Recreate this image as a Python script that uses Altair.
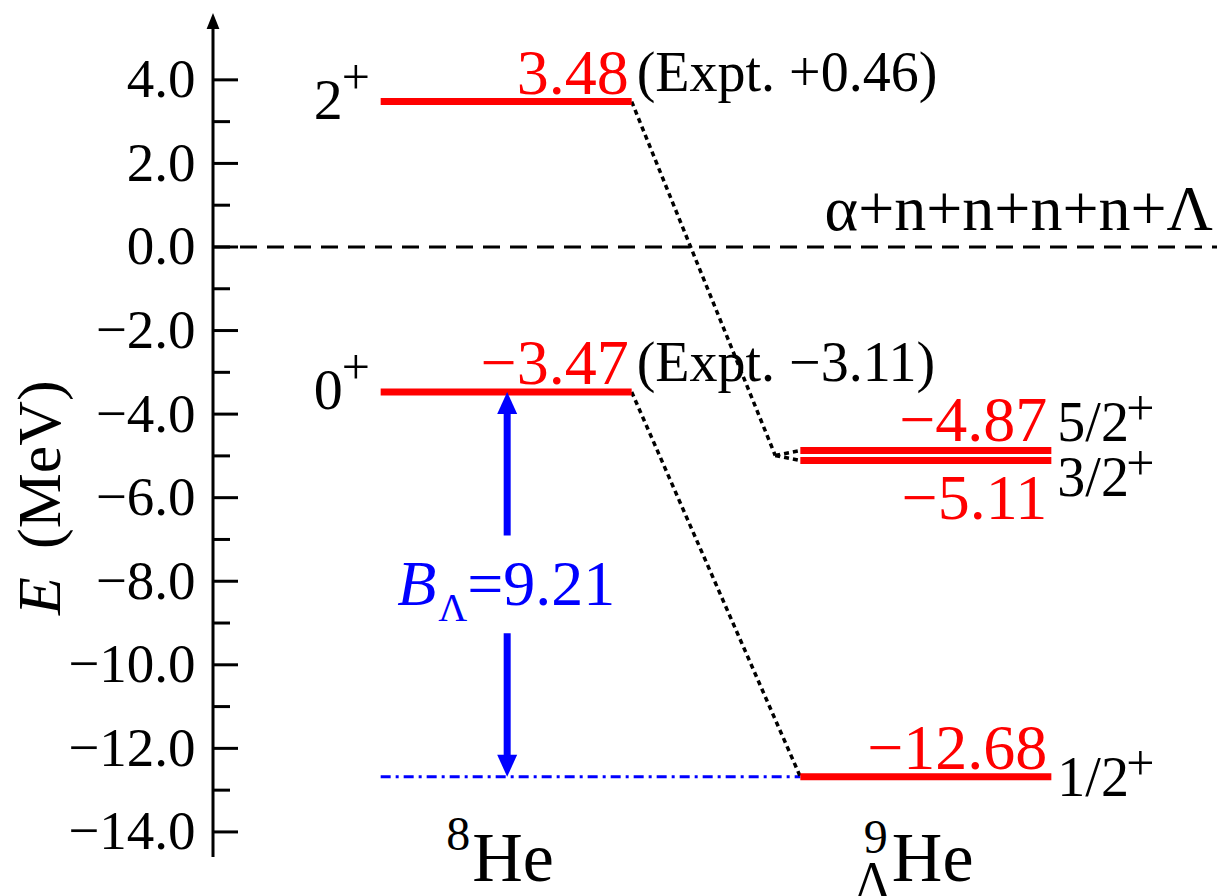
import altair as alt
import pandas as pd

# ---- level energies (MeV) ----
core_spin = ["2", "0"]
core_energy = [3.48, -3.47]
core_expt = ["+0.46", "\u22123.11"]

hyp_spin = ["5/2", "3/2", "1/2"]
hyp_energy = [-4.87, -5.11, -12.68]

threshold_energy = [0.0]
threshold_text = ["\u03b1+n+n+n+n+\u039b"]

nucleus_mass = ["8", "9"]
nucleus_symbol = ["He", "He"]

major_ticks = [-14, -12, -10, -8, -6, -4, -2, 0, 2, 4]
minor_ticks = [-13, -11, -9, -7, -5, -3, -1, 1, 3]

# ---- layout ----
W, H = 1004, 844
Y_DOM = [-14.6, 5.6]
X_DOM = [0, 10]
PX = H / (Y_DOM[1] - Y_DOM[0])  # pixels per MeV
CORE_X0, HYP_X0, LEVEL_LEN = 1.67, 5.85, 2.5
ARROW_X = 2.93
FORK_X = 5.60
FONT = "Liberation Serif"
RED, BLUE, BLACK = "#ff0000", "#0000ff", "#000000"
SUP = 50  # font size of the parity superscripts

hyp_value_dy = [-9, 59, -8]
hyp_spin_dy = [-9, 36, 19]

Y_AXIS = alt.Axis(
    values=major_ticks, format=".1f", domain=False, ticks=False, tickSize=0,
    grid=False, labelFont=FONT, labelFontSize=55, labelColor=BLACK,
    labelPadding=18, title=None,
)


def fmt(v):
    return f"{v:.2f}".replace("-", "\u2212")


def X(f="x"):
    return alt.X(f"{f}:Q", scale=alt.Scale(domain=X_DOM), axis=None)


def Y(f="y"):
    return alt.Y(f"{f}:Q", scale=alt.Scale(domain=Y_DOM), axis=Y_AXIS)


def text(x, y, t, **kw):
    df = pd.DataFrame({"x": [x], "y": [y], "t": [t]})
    return alt.Chart(df).mark_text(font=FONT, color=kw.pop("color", BLACK), **kw).encode(
        x=X(), y=Y(), text="t:N"
    )


layers = []

# axis tick marks (inward)
major_df = pd.DataFrame({"y": major_ticks})
layers.append(
    alt.Chart(major_df).mark_rule(color=BLACK, strokeWidth=3).encode(
        x=alt.value(0), x2=alt.value(25), y=Y()
    )
)
minor_df = pd.DataFrame({"y": minor_ticks})
layers.append(
    alt.Chart(minor_df).mark_rule(color=BLACK, strokeWidth=3).encode(
        x=alt.value(0), x2=alt.value(17), y=Y()
    )
)

# axis line with arrow head
top_df = pd.DataFrame({"y": [Y_DOM[1]]})
layers.append(
    alt.Chart(top_df).mark_rule(color=BLACK, strokeWidth=3).encode(
        x=alt.value(0), y=alt.value(14), y2=alt.value(H)
    )
)
layers.append(
    alt.Chart(top_df).mark_point(
        shape="M0,0 L-0.8,2 L0.8,2 Z", size=256, filled=True, color=BLACK, opacity=1, strokeWidth=0
    ).encode(x=alt.value(0), y=Y())
)

# axis title: italic E (MeV)
title_df = pd.DataFrame({"a": ["E"], "b": ["(MeV)"]})
layers.append(
    alt.Chart(title_df).mark_text(
        font=FONT, fontSize=62, fontStyle="italic", angle=270, align="left",
        baseline="alphabetic", color=BLACK,
    ).encode(x=alt.value(-153), y=alt.value(602), text="a:N")
)
layers.append(
    alt.Chart(title_df).mark_text(
        font=FONT, fontSize=62, angle=270, align="left", baseline="alphabetic", color=BLACK,
    ).encode(x=alt.value(-153), y=alt.value(536), text="b:N")
)

# threshold line
thr_df = pd.DataFrame({"x": [X_DOM[0]], "x2": [X_DOM[1]], "y": threshold_energy})
layers.append(
    alt.Chart(thr_df).mark_rule(color=BLACK, strokeWidth=3, strokeDash=[17, 10]).encode(
        x=X(), x2=alt.X2("x2:Q"), y=Y()
    )
)
layers.append(
    text(X_DOM[1], threshold_energy[0], threshold_text[0], fontSize=64, align="right",
         baseline="alphabetic", dx=-4, dy=-17)
)

# blue dash-dot reference at the hypernuclear ground state
ref_df = pd.DataFrame({"x": [CORE_X0], "x2": [HYP_X0], "y": [hyp_energy[2]]})
layers.append(
    alt.Chart(ref_df).mark_rule(color=BLUE, strokeWidth=3, strokeDash=[10, 5, 3, 5]).encode(
        x=X(), x2=alt.X2("x2:Q"), y=Y()
    )
)

# dotted correlation lines
fork_y = (hyp_energy[0] + hyp_energy[1]) / 2
core_x1 = CORE_X0 + LEVEL_LEN
conn_df = pd.DataFrame({
    "x": [core_x1, FORK_X, FORK_X, core_x1],
    "y": [core_energy[0], fork_y, fork_y, core_energy[1]],
    "x2": [FORK_X, HYP_X0, HYP_X0, HYP_X0],
    "y2": [fork_y, hyp_energy[0], hyp_energy[1], hyp_energy[2]],
})
layers.append(
    alt.Chart(conn_df).mark_rule(color=BLACK, strokeWidth=3.5, strokeDash=[5, 4]).encode(
        x=X(), y=Y(), x2=alt.X2("x2:Q"), y2=alt.Y2("y2:Q")
    )
)

# energy levels
lev_df = pd.DataFrame({
    "x": [CORE_X0] * len(core_energy) + [HYP_X0] * len(hyp_energy),
    "y": core_energy + hyp_energy,
})
lev_df["x2"] = lev_df["x"] + LEVEL_LEN
layers.append(
    alt.Chart(lev_df).mark_rule(color=RED, strokeWidth=7).encode(
        x=X(), x2=alt.X2("x2:Q"), y=Y()
    )
)

# B_Lambda double arrow
b_lambda = core_energy[1] - hyp_energy[2]
mid = (core_energy[1] + hyp_energy[2]) / 2
gap = 1.17
head = 12 / PX
shaft_df = pd.DataFrame({
    "x": [ARROW_X, ARROW_X],
    "y": [core_energy[1] - head, mid - gap],
    "y2": [mid + gap, hyp_energy[2] + head],
})
layers.append(
    alt.Chart(shaft_df).mark_rule(color=BLUE, strokeWidth=7).encode(
        x=X(), y=Y(), y2=alt.Y2("y2:Q")
    )
)
up_df = pd.DataFrame({"x": [ARROW_X], "y": [core_energy[1]]})
dn_df = pd.DataFrame({"x": [ARROW_X], "y": [hyp_energy[2]]})
layers.append(
    alt.Chart(up_df).mark_point(
        shape="M0,0 L-1,2.2 L1,2.2 Z", size=400, filled=True, color=BLUE, opacity=1, strokeWidth=0
    ).encode(x=X(), y=Y())
)
layers.append(
    alt.Chart(dn_df).mark_point(
        shape="M0,0 L-1,-2.2 L1,-2.2 Z", size=400, filled=True, color=BLUE, opacity=1, strokeWidth=0
    ).encode(x=X(), y=Y())
)
layers.append(text(ARROW_X, mid, "B", fontSize=64, fontStyle="italic", color=BLUE,
                   align="left", baseline="alphabetic", dx=-110, dy=21))
layers.append(text(ARROW_X, mid, "\u039b", fontSize=40, color=BLUE,
                   align="left", baseline="alphabetic", dx=-69, dy=37))
layers.append(text(ARROW_X, mid, "=" + f"{b_lambda:.2f}", fontSize=64, color=BLUE,
                   align="left", baseline="alphabetic", dx=-40, dy=21))

# core nucleus level labels
for spin, e, expt in zip(core_spin, core_energy, core_expt):
    layers.append(text(CORE_X0, e, spin, fontSize=58, align="right",
                       baseline="alphabetic", dx=-38, dy=17))
    layers.append(text(CORE_X0, e, "+", fontSize=SUP, align="left",
                       baseline="alphabetic", dx=-39, dy=-8))
    layers.append(text(core_x1, e, fmt(e), fontSize=64, color=RED, align="right",
                       baseline="alphabetic", dx=-3, dy=-8))
    layers.append(text(core_x1, e, f"(Expt. {expt})", fontSize=56, align="left",
                       baseline="alphabetic", dx=5, dy=-11))

# hypernucleus level labels
hyp_x1 = HYP_X0 + LEVEL_LEN
for spin, e, vdy, sdy in zip(hyp_spin, hyp_energy, hyp_value_dy, hyp_spin_dy):
    layers.append(text(hyp_x1, e, fmt(e), fontSize=64, color=RED, align="right",
                       baseline="alphabetic", dx=-4, dy=vdy))
    layers.append(text(hyp_x1, e, spin, fontSize=56, align="left",
                       baseline="alphabetic", dx=6, dy=sdy))
    layers.append(text(hyp_x1, e, "+", fontSize=SUP, align="left",
                       baseline="alphabetic", dx=75, dy=sdy - 16))

# nucleus names below the levels
name_df = pd.DataFrame({
    "x": [CORE_X0 + LEVEL_LEN / 2, HYP_X0 + LEVEL_LEN / 2],
    "mass": nucleus_mass,
    "sym": nucleus_symbol,
    "lam": ["", "\u039b"],
})
layers.append(
    alt.Chart(name_df).mark_text(font=FONT, fontSize=70, align="left", baseline="alphabetic",
                                 dx=-34, dy=24, color=BLACK).encode(
        x=X(), y=alt.value(H), text="sym:N")
)
layers.append(
    alt.Chart(name_df.iloc[[0]]).mark_text(font=FONT, fontSize=48, align="right",
                                           baseline="alphabetic", dx=-36, dy=-7, color=BLACK).encode(
        x=X(), y=alt.value(H), text="mass:N")
)
layers.append(
    alt.Chart(name_df.iloc[[1]]).mark_text(font=FONT, fontSize=48, align="right",
                                           baseline="alphabetic", dx=-38, dy=-4, color=BLACK).encode(
        x=X(), y=alt.value(H), text="mass:N")
)
layers.append(
    alt.Chart(name_df.iloc[[1]]).mark_text(font=FONT, fontSize=52, align="center",
                                           baseline="alphabetic", dx=-53, dy=41, color=BLACK).encode(
        x=X(), y=alt.value(H), text="lam:N")
)

chart = (
    alt.layer(*layers)
    .properties(
        width=W,
        height=H,
        autosize=alt.AutoSizeParams(type="none"),
        padding={"left": 213, "top": 13, "right": 0, "bottom": 39},
        background="white",
    )
    .configure_view(stroke=None)
)

chart.save("out.html", embed_options={"renderer": "svg", "actions": False})
